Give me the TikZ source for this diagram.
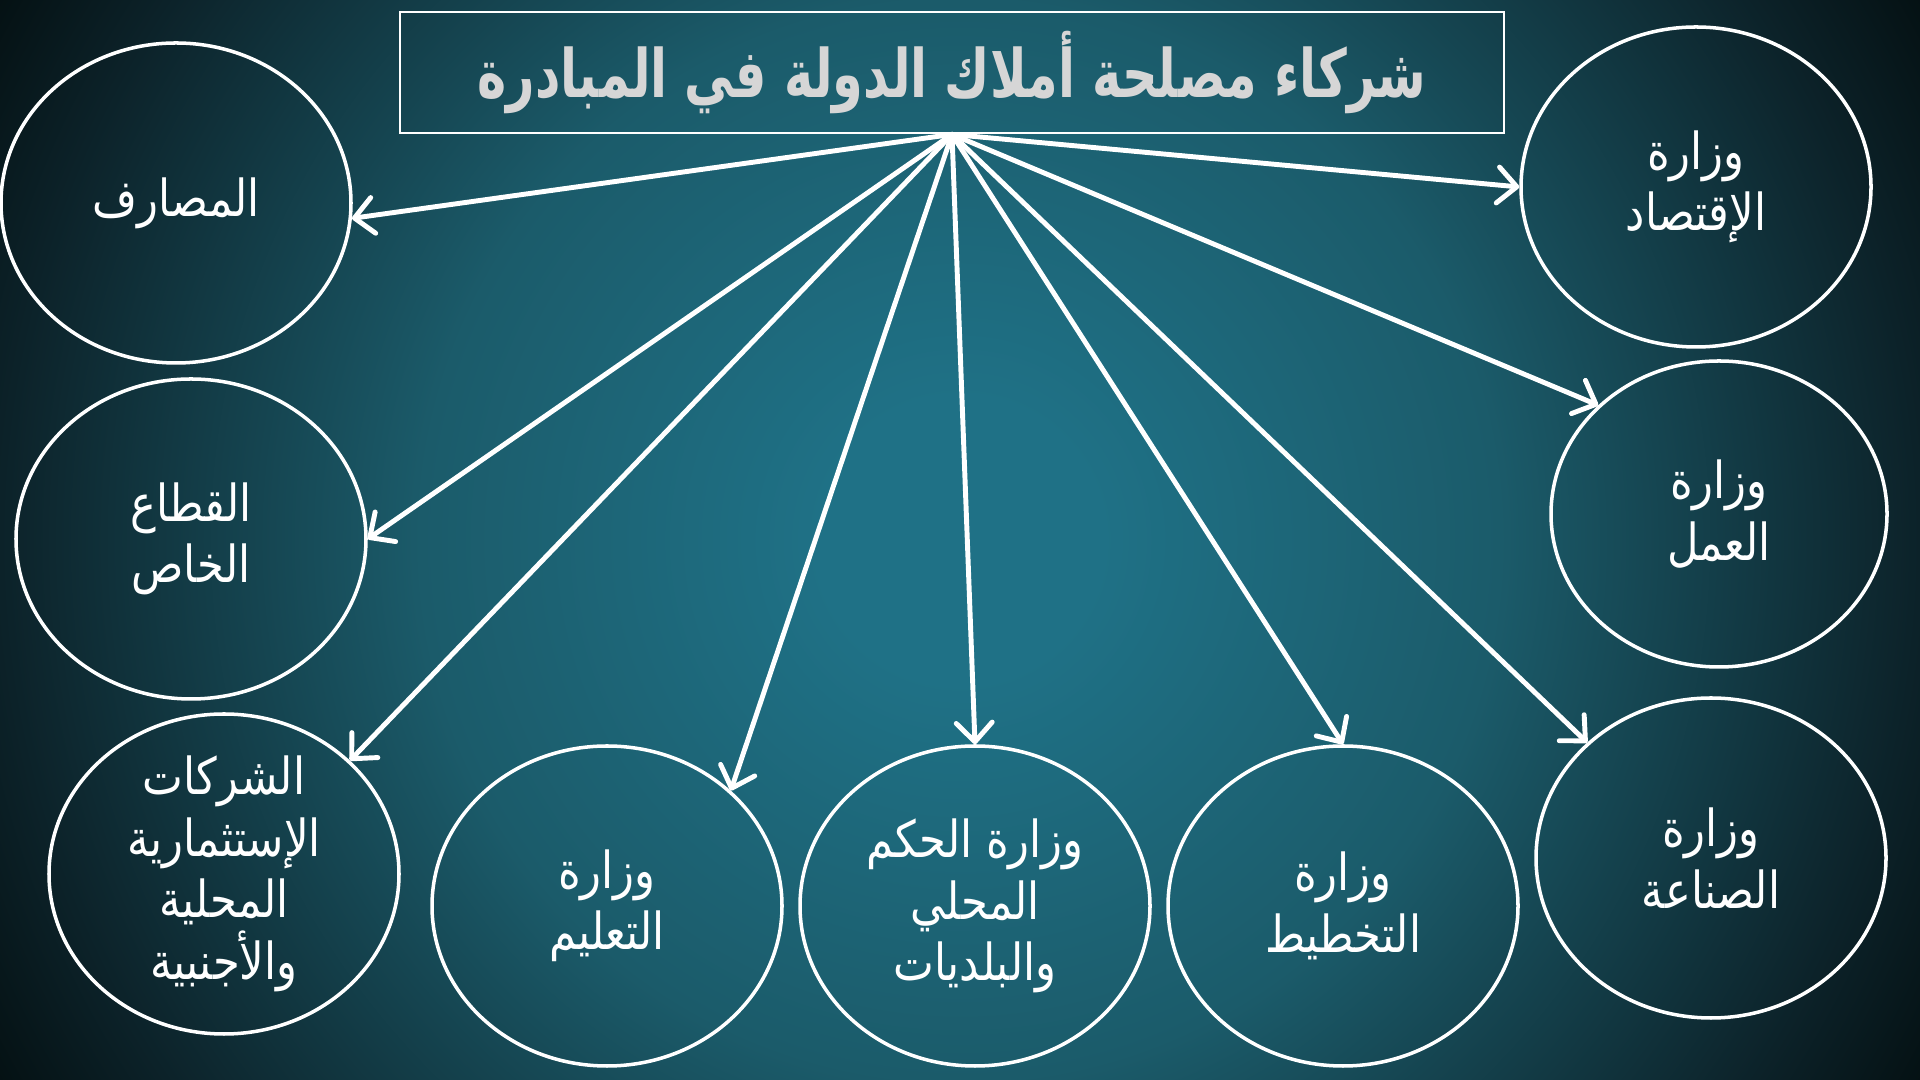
\documentclass[tikz,border=0pt]{standalone}
\usepackage{fontspec}
\newfontfamily\arabicfont[Script=Arabic,FakeStretch=0.85]{DejaVu Sans}
\newfontfamily\titlefont[Script=Arabic,FakeStretch=0.74]{DejaVu Sans}
\TeXXeTstate=1
\usetikzlibrary{shapes.geometric,arrows.meta}

\definecolor{bgcenter}{HTML}{1F7186}
\definecolor{bgmid}{HTML}{1B5B6A}
\definecolor{bgside}{HTML}{0C2229}
\definecolor{bgcorner}{HTML}{041012}
\definecolor{titlegray}{HTML}{D6D6D6}
% 1px = 0.2835bp
\pgfdeclareradialshading{bgglow}{\pgfpoint{0bp}{0bp}}{color(0bp)=(bgcenter); color(40bp)=(bgcenter); color(153bp)=(bgmid); color(272bp)=(bgside); color(315bp)=(bgcorner)}

% one right-to-left line
\newcommand{\arline}[1]{\beginR #1\endR}

\tikzset{
  partner/.style={ellipse, draw=white, line width=1pt, minimum width=3.5cm, minimum height=3.2cm,
    inner sep=-3mm, text=white, align=center, font=\arabicfont\fontsize{14.5}{17.5}\selectfont},
  link/.style={draw=white, line width=1.4pt, line cap=round,
    -{Straight Barb[length=1.9mm,width=3.6mm,round]}}
}

\begin{document}
\begin{tikzpicture}
  \useasboundingbox (0,0) rectangle (19.2,10.8);

  % خلفية
  \begin{scope}
    \clip (0,0) rectangle (19.2,10.8);
    \node[inner sep=0pt] (bg) at (9.6,5.4) {\pgfuseshading{bgglow}};
  \end{scope}

  % العنوان
  \node[draw=white, line width=0.8pt, minimum width=11.04cm, minimum height=1.21cm, text=titlegray,
    font=\titlefont\bfseries\fontsize{19}{22}\selectfont] (title) at (9.52,10.075)
    {\arline{شركاء مصلحة أملاك الدولة في المبادرة}};

  % الشركاء
  \node[partner] (banks) at (1.76,8.77) {\arline{المصارف}};
  \node[partner] (private) at (1.91,5.41) {\arline{القطاع}\\\arline{الخاص}};
  \node[partner] (companies) at (2.24,2.06)
    {\arline{الشركات}\\\arline{الإستثمارية}\\\arline{المحلية}\\\arline{والأجنبية}};
  \node[partner] (education) at (6.07,1.74) {\arline{وزارة}\\\arline{التعليم}};
  \node[partner] (localgov) at (9.75,1.74)
    {\arline{وزارة الحكم}\\\arline{المحلي}\\\arline{والبلديات}};
  \node[partner] (planning) at (13.43,1.74) {\arline{وزارة}\\\arline{التخطيط}};
  \node[partner] (industry) at (17.11,2.22) {\arline{وزارة}\\\arline{الصناعة}};
  \node[partner, minimum width=3.36cm, minimum height=3.06cm] (labour) at (17.19,5.66)
    {\arline{وزارة}\\\arline{العمل}};
  \node[partner] (economy) at (16.96,8.93) {\arline{وزارة}\\\arline{الإقتصاد}};

  % الأسهم
  \draw[link] (title.south) -- (banks.-5);
  \draw[link] (title.south) -- (private.east);
  \draw[link] (title.south) -- (companies.42);
  \draw[link] (title.south) -- (education.43);
  \draw[link] (title.south) -- (localgov.north);
  \draw[link] (title.south) -- (planning.north);
  \draw[link] (title.south) -- (industry.137);
  \draw[link] (title.south) -- (labour.138);
  \draw[link] (title.south) -- (economy.west);
\end{tikzpicture}
\end{document}
